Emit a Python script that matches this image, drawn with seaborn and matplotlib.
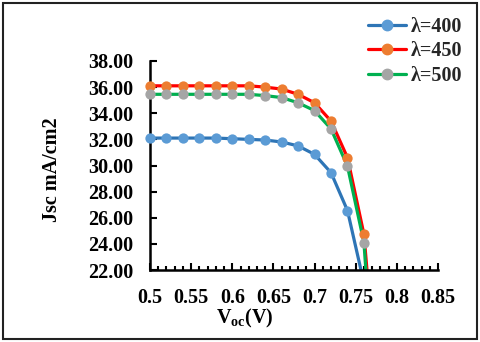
import matplotlib
matplotlib.use("Agg")
import matplotlib.pyplot as plt
from matplotlib.lines import Line2D
from matplotlib.patches import Rectangle
from matplotlib.ticker import MultipleLocator, FixedLocator
import numpy as np
import pandas as pd
import seaborn as sns

voc = [0.50, 0.52, 0.54, 0.56, 0.58, 0.60, 0.62, 0.64, 0.66, 0.68, 0.70, 0.72, 0.74, 0.76, 0.78]
jsc_400 = [32.1, 32.1, 32.1, 32.1, 32.1, 32.05, 32.0, 31.95, 31.8, 31.5, 30.85, 29.45, 26.55, 21.0, np.nan]
jsc_450 = [36.1, 36.1, 36.1, 36.1, 36.1, 36.1, 36.1, 36.0, 35.85, 35.45, 34.8, 33.4, 30.6, 24.73, 10.0]
jsc_500 = [35.45, 35.45, 35.45, 35.45, 35.45, 35.45, 35.45, 35.35, 35.2, 34.8, 34.2, 32.8, 29.95, 24.1, 6.0]
labels = ["λ=400", "λ=450", "λ=500"]
x_ticks = [0.5, 0.55, 0.6, 0.65, 0.7, 0.75, 0.8, 0.85]
x_tick_labels = ["0.5", "0.55", "0.6", "0.65", "0.7", "0.75", "0.8", "0.85"]
y_ticks = [22, 24, 26, 28, 30, 32, 34, 36, 38]

line_colors = ["#2E75B6", "#FF0000", "#00B050"]
marker_colors = ["#5B9BD5", "#ED7D31", "#A5A5A5"]

sns.set_theme(style="white")
plt.rcParams["font.family"] = ["Liberation Serif", "DejaVu Serif"]
plt.rcParams["font.weight"] = "bold"
plt.rcParams["mathtext.fontset"] = "custom"
plt.rcParams["mathtext.rm"] = "Liberation Serif:bold"
plt.rcParams["mathtext.bf"] = "Liberation Serif:bold"

FS = 14.5

fig = plt.figure(figsize=(4.8, 3.42), dpi=100)
ax = fig.add_axes([150/480, 1-270/342, 288/480, 209/342])

ylo, yhi = 22, 38
handles = []
for lab, ys, lc, mc in zip(labels, [jsc_400, jsc_450, jsc_500], line_colors, marker_colors):
    df = pd.DataFrame({"Voc": voc, "Jsc": ys}).dropna()
    sns.lineplot(data=df, x="Voc", y="Jsc", ax=ax, color=lc, linewidth=2.3,
                 estimator=None, sort=False, legend=False)
    vis = df[(df["Jsc"] >= ylo) & (df["Jsc"] <= yhi)]
    sns.scatterplot(data=vis, x="Voc", y="Jsc", ax=ax, color=mc, s=55,
                    edgecolor=mc, linewidth=0, legend=False, clip_on=False, zorder=3)
    handles.append(Line2D([0], [0], color=lc, linewidth=2.3, marker="o",
                          markersize=7.5, markerfacecolor=mc, markeredgecolor=mc))

ax.set_xlim(0.5, 0.85)
ax.set_ylim(ylo, yhi)
ax.xaxis.set_major_locator(FixedLocator(x_ticks))
ax.set_xticklabels(x_tick_labels)
ax.xaxis.set_minor_locator(MultipleLocator(0.01))
ax.set_yticks(y_ticks)
ax.set_yticklabels([f"{v:.2f}" for v in y_ticks])

for s in ["top", "right"]:
    ax.spines[s].set_visible(False)
for s in ["left", "bottom"]:
    ax.spines[s].set_color("black")
    ax.spines[s].set_linewidth(1.8)

ax.tick_params(axis="both", which="major", direction="in", length=5, width=1.5,
               colors="black", labelsize=FS, pad=12)
ax.tick_params(axis="x", which="minor", direction="in", length=3, width=1.5,
               colors="black", bottom=True)
ax.tick_params(axis="x", which="major", bottom=True, pad=13)
ax.tick_params(axis="y", which="major", left=True)
for t in ax.get_xticklabels() + ax.get_yticklabels():
    t.set_fontweight("bold")

ax.set_xlabel("")
ax.set_ylabel("")
fig.text(245/480, 1-318/342, r"V$_{\mathregular{oc}}$(V)", ha="center", va="center",
         fontsize=FS, fontweight="bold", color="black")
fig.text(52/480, 1-170/342, "Jsc mA/cm2", ha="center", va="center", rotation=90,
         fontsize=FS, fontweight="bold", color="black")

leg = fig.legend(handles, labels, loc="upper right", bbox_to_anchor=(470/480, 1-9/342),
                 frameon=False, fontsize=FS, handlelength=1.9, handletextpad=0.2,
                 labelspacing=0.22, borderaxespad=0)
for t in leg.get_texts():
    t.set_fontweight("bold")

fig.patches.append(Rectangle((3/480, 3/342), 474/480, 336/342, transform=fig.transFigure,
                             fill=False, edgecolor="#222222", linewidth=1.5))

fig.savefig("out.png", dpi=100)
